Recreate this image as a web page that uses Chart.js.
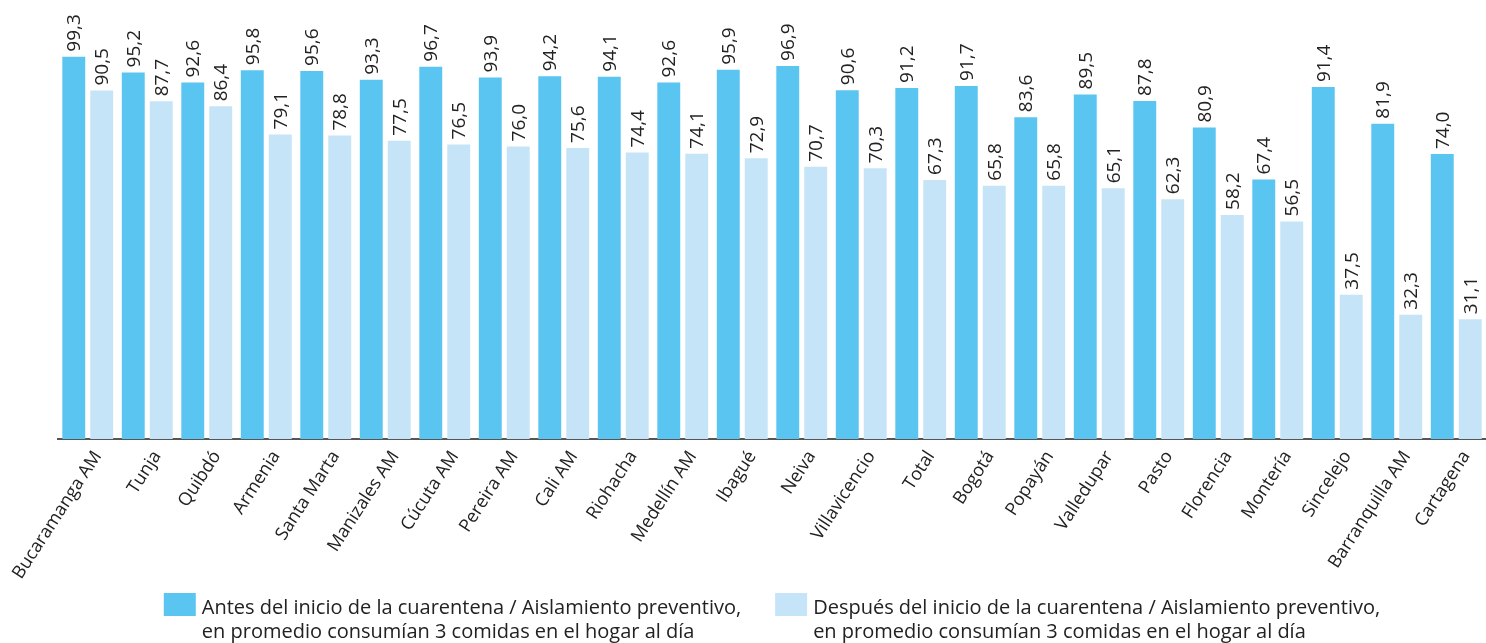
<!DOCTYPE html>
<html>
<head>
<meta charset="utf-8">
<script src="https://cdn.jsdelivr.net/npm/chart.js@4"></script>
<style>
  html, body { margin: 0; padding: 0; background: #fff; }
  #wrap { width: 1486px; height: 643px; }
</style>
</head>
<body>
<div id="wrap"><canvas id="chart" width="1486" height="643"></canvas></div>
<script>
const cities = ["Bucaramanga AM", "Tunja", "Quibdó", "Armenia", "Santa Marta", "Manizales AM", "Cúcuta AM", "Pereira AM",
  "Cali AM", "Riohacha", "Medellín AM", "Ibagué", "Neiva", "Villavicencio", "Total", "Bogotá", "Popayán", "Valledupar",
  "Pasto", "Florencia", "Montería", "Sincelejo", "Barranquilla AM", "Cartagena"];
const antes = [99.3, 95.2, 92.6, 95.8, 95.6, 93.3, 96.7, 93.9, 94.2, 94.1, 92.6, 95.9, 96.9, 90.6, 91.2, 91.7, 83.6, 89.5,
  87.8, 80.9, 67.4, 91.4, 81.9, 74.0];
const despues = [90.5, 87.7, 86.4, 79.1, 78.8, 77.5, 76.5, 76.0, 75.6, 74.4, 74.1, 72.9, 70.7, 70.3, 67.3, 65.8, 65.8, 65.1,
  62.3, 58.2, 56.5, 37.5, 32.3, 31.1];
const legendAntes = ["Antes del inicio de la cuarentena / Aislamiento preventivo,", "en promedio consumían 3 comidas en el hogar al día"];
const legendDespues = ["Después del inicio de la cuarentena / Aislamiento preventivo,", "en promedio consumían 3 comidas en el hogar al día"];

const colorAntes = "#5bc5f2";
const colorDespues = "#c6e4f8";
const fontFamily = "'Open Sans', Lato, sans-serif";

// numbers written vertically above each bar
const valueLabels = {
  id: "valueLabels",
  afterDatasetsDraw(chart) {
    const ctx = chart.ctx;
    ctx.save();
    ctx.font = "19px " + fontFamily;
    ctx.fillStyle = "#222";
    ctx.textAlign = "left";
    ctx.textBaseline = "middle";
    chart.data.datasets.forEach((ds, i) => {
      chart.getDatasetMeta(i).data.forEach((bar, j) => {
        ctx.save();
        ctx.translate(bar.x + 1, bar.y - 5);
        ctx.rotate(-Math.PI / 2);
        ctx.fillText(ds.data[j].toFixed(1).replace(".", ","), 0, 0);
        ctx.restore();
      });
    });
    ctx.restore();
  }
};

// two-line legend under the axis labels
const bottomLegend = {
  id: "bottomLegend",
  afterDraw(chart) {
    const ctx = chart.ctx;
    ctx.save();
    ctx.font = "20px " + fontFamily;
    const boxW = 32, boxH = 23, textGap = 6, itemGap = 34;
    const items = chart.data.datasets.map(ds => ds.legendLines);
    const widths = items.map(lines => boxW + textGap + Math.max(...lines.map(l => ctx.measureText(l).width)));
    const total = widths.reduce((a, b) => a + b, 0) + itemGap * (items.length - 1);
    let x = (chart.chartArea.left + chart.chartArea.right) / 2 - total / 2;
    const top = chart.height - 50;
    chart.data.datasets.forEach((ds, i) => {
      ctx.fillStyle = ds.backgroundColor;
      ctx.fillRect(x, top, boxW, boxH);
      ctx.fillStyle = "#222";
      ctx.textBaseline = "alphabetic";
      ds.legendLines.forEach((line, k) => {
        ctx.fillText(line, x + boxW + textGap, top + 21 + k * 24);
      });
      x += widths[i] + itemGap;
    });
    ctx.restore();
  }
};

new Chart(document.getElementById("chart"), {
  type: "bar",
  data: {
    labels: cities,
    datasets: [
      { label: legendAntes.join(" "), legendLines: legendAntes, data: antes, backgroundColor: colorAntes,
        categoryPercentage: 0.94, barPercentage: 0.82 },
      { label: legendDespues.join(" "), legendLines: legendDespues, data: despues, backgroundColor: colorDespues,
        categoryPercentage: 0.94, barPercentage: 0.82 }
    ]
  },
  options: {
    responsive: false,
    devicePixelRatio: 1,
    animation: false,
    layout: { padding: { left: 58, right: 0, top: 54, bottom: 54 } },
    plugins: { legend: { display: false }, tooltip: { enabled: false } },
    scales: {
      x: {
        offset: true,
        grid: { display: false, drawTicks: false },
        border: { display: true, color: "#555", width: 2 },
        ticks: {
          color: "#222",
          font: { size: 18, family: fontFamily },
          minRotation: 57,
          maxRotation: 57,
          autoSkip: false,
          padding: 8,
          labelOffset: 10
        },
        afterFit(scale) {
          scale.paddingLeft = 0;
          scale.paddingRight = 0;
          scale.height = 150;
        }
      },
      y: { display: false, min: 0, max: 100 }
    }
  },
  plugins: [valueLabels, bottomLegend]
});
</script>
</body>
</html>
